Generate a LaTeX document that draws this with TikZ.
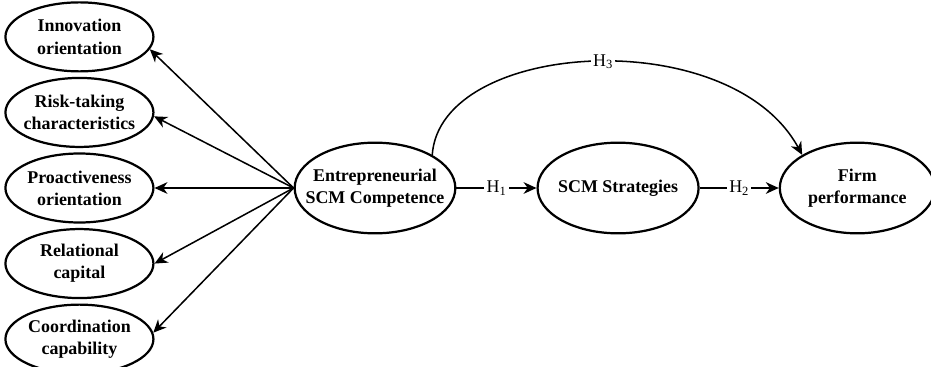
\documentclass[tikz,border=0pt]{standalone}
\usepackage{fontspec}
\setmainfont{Liberation Serif}
\usetikzlibrary{shapes.geometric,arrows.meta,positioning}

\tikzset{
  construct/.style={draw, ellipse, line width=1.9pt, inner xsep=-30pt, inner ysep=-12pt,
    align=center, font=\bfseries\fontsize{15.3}{18.8}\selectfont},
  factor/.style={construct, minimum width=4.44cm, minimum height=2.07cm},
  latent/.style={construct, minimum width=4.82cm, minimum height=2.72cm},
  link/.style={-{Stealth[length=11pt,width=10pt,inset=3.5pt]}, line width=1.3pt},
  hyp/.style={fill=white, inner sep=2pt, font=\fontsize{15.3}{18.8}\selectfont}
}

\begin{document}
\begin{tikzpicture}[x=0.03cm, y=-0.03cm]
  \useasboundingbox (0,0) rectangle (931,367);

  % main constructs
  \node[latent] (ent) at (375,188) {Entrepreneurial\\SCM Competence};
  \node[latent, right=2.4cm of ent, minimum width=4.83cm] (scm) {SCM Strategies};
  \node[latent, right=2.37cm of scm, minimum width=4.65cm] (firm) {Firm\\performance};

  % first-order dimensions
  \node[factor, left=4.17cm of ent] (pro) {Proactiveness\\orientation};
  \node[factor, above=0.13cm of pro] (risk) {Risk-taking\\characteristics};
  \node[factor, above=0.13cm of risk] (inno) {Innovation\\orientation};
  \node[factor, below=0.13cm of pro] (rel) {Relational\\capital};
  \node[factor, below=0.13cm of rel] (coord) {Coordination\\capability};

  \draw[link] (ent.west) -- (inno.-10);
  \draw[link] (ent.west) -- (risk.-3);
  \draw[link] (ent.west) -- (pro.east);
  \draw[link] (ent.west) -- (rel.east);
  \draw[link] (ent.west) -- (coord.5);

  % hypotheses
  \draw[link] (ent.east) -- node[hyp] {H\textsubscript{1}} (scm.west);
  \draw[link] (scm.east) -- node[hyp] {H\textsubscript{2}} (firm.west);
  \draw[link] (ent.30) .. controls (440,40) and (730,22) .. node[hyp, pos=0.52] {H\textsubscript{3}} (firm.149);
\end{tikzpicture}
\end{document}
